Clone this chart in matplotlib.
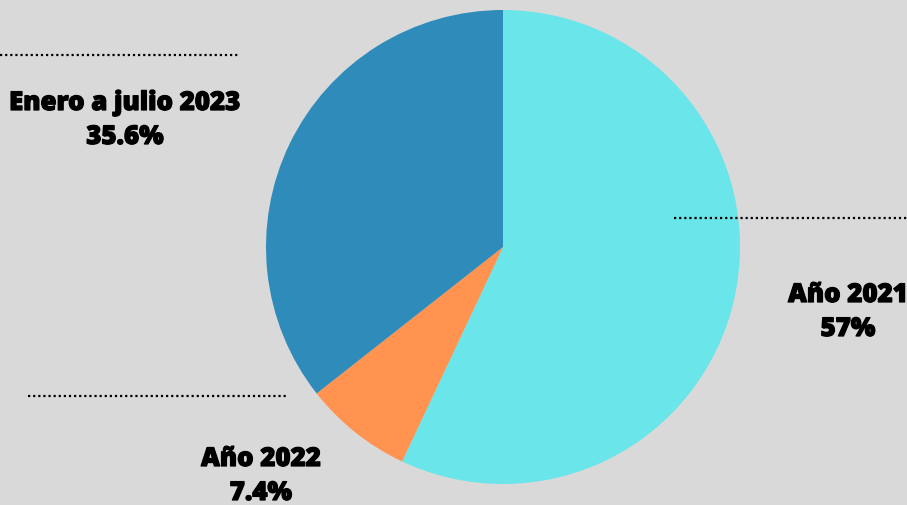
import matplotlib.pyplot as plt
import matplotlib.patheffects as pe

# Datos
labels = ['Año 2021', 'Año 2022', 'Enero a julio 2023']
shares = [57, 7.4, 35.6]
share_text = ['57%', '7.4%', '35.6%']
colors = ['#6AE5E9', '#FF934F', '#2E8BBA']

W, H = 907, 505
fig = plt.figure(figsize=(W / 100, H / 100), dpi=100)
fig.patch.set_facecolor('#D9D9D9')
ax = fig.add_axes([0, 0, 1, 1])
ax.set_facecolor('#D9D9D9')

ax.pie(shares, colors=colors, startangle=90, counterclock=False,
       center=(503, H - 247), radius=237,
       wedgeprops=dict(linewidth=0))
ax.set_xlim(0, W)
ax.set_ylim(0, H)
ax.set_aspect('equal')
ax.axis('off')

# Líneas punteadas
dots = dict(color='black', linestyle=(0, (1, 1.3)), linewidth=1.6)
ax.plot([0, 240], [H - 55, H - 55], **dots)
ax.plot([674, W], [H - 218, H - 218], **dots)
ax.plot([28, 287], [H - 396, H - 396], **dots)

# Etiquetas
font = dict(family='Open Sans', weight='heavy', fontsize=18.6, color='black',
            ha='center', va='center',
            path_effects=[pe.withStroke(linewidth=0.9, foreground='black')])
pos = [(848, 295), (261, 459), (125, 103)]
for (x, y), lab, txt in zip(pos, labels, share_text):
    ax.text(x, H - y, lab, **font)
    ax.text(x, H - y - 34, txt, **font)

fig.savefig('out.png', dpi=100, facecolor=fig.get_facecolor())
